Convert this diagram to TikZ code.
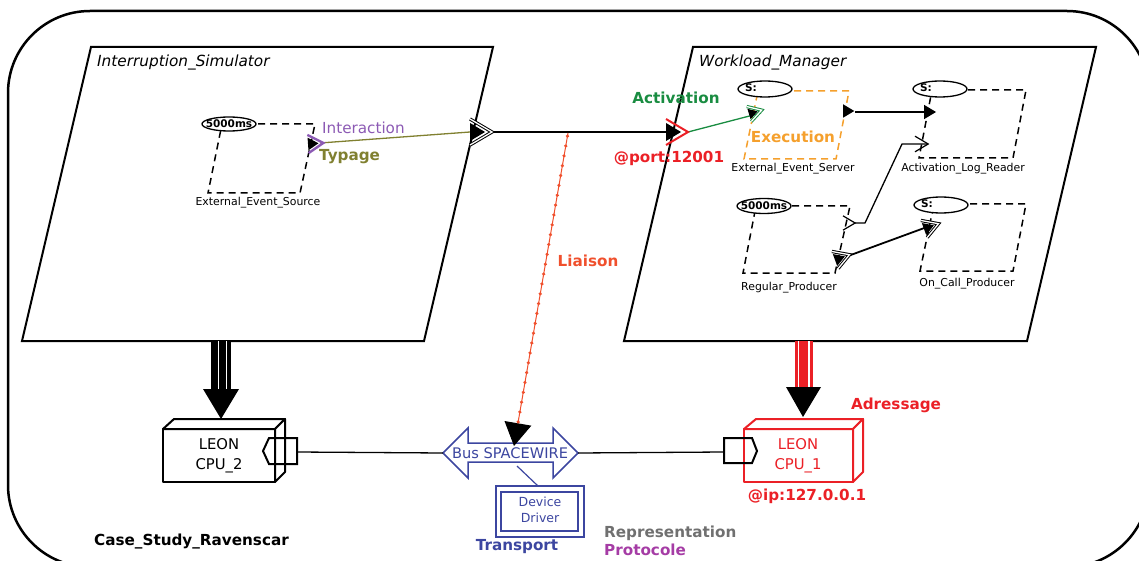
\documentclass[tikz,border=0pt]{standalone}
\usepackage{fontspec}
\setmainfont{DejaVu Sans}
\usetikzlibrary{arrows.meta,decorations.markings}
\definecolor{cred}{RGB}{235,32,38}
\definecolor{cliaison}{RGB}{240,80,45}
\definecolor{cgreen}{RGB}{25,140,65}
\definecolor{cpurple}{RGB}{140,90,180}
\definecolor{colive}{RGB}{128,128,48}
\definecolor{corange}{RGB}{245,160,45}
\definecolor{cblue}{RGB}{60,70,160}
\definecolor{cprot}{RGB}{165,60,165}
\definecolor{cgray}{RGB}{112,112,112}
% port: #1 base position, #2 angle, #3 scale, #4 chevron style, #5 triangle fill
\newcommand\portmk[5]{%
  \begin{scope}[shift={#1},rotate=#2,scale=#3]
    \fill[#5] (0,-9) -- (15,0) -- (0,9) -- cycle;
    \draw[#4] (0,-13) -- (22,0) -- (0,13);
  \end{scope}}
\begin{document}
\begin{tikzpicture}[x=1pt,y=-1pt,
  title/.style={font=\fontsize{15.3}{18}\selectfont\itshape, anchor=west, inner sep=0pt},
  blab/.style={font=\fontsize{15.2}{18}\selectfont\bfseries, inner sep=0pt},
  sub/.style={font=\fontsize{10.9}{13}\selectfont, inner sep=0pt},
  tiny/.style={font=\fontsize{10.5}{12}\selectfont\bfseries, inner sep=0pt},
  frame/.style={line width=2pt, line join=miter},
  dashbox/.style={line width=1.5pt, dash pattern=on 7pt off 5pt},
  ell/.style={line width=1.3pt, fill=white},
  conn/.style={line width=1.5pt},
  dbl/.style={draw=#1, double=white, line width=1pt, double distance=1.3pt},
  cube/.style={line width=2pt, fill=white, line join=round},
  cputext/.style={font=\fontsize{14.8}{20}\selectfont, align=center, inner sep=0pt},
  liaison/.style={draw=cliaison, line width=1pt,
    decoration={markings, mark=between positions 0.01 and 0.93 step 10pt with {\fill[cliaison] (0,0) circle[radius=1.8pt];}},
    postaction={decorate}},
]
\useasboundingbox (0,0) rectangle (1139,561);
\begin{scope}
  \clip (0,0) rectangle (1139,561);
  \draw[line width=2.5pt, rounded corners=82pt] (8,11) rectangle (1149,567);
\end{scope}

% big components
\draw[frame] (91,47) -- (493,47) -- (424,341) -- (22,341) -- cycle;
\node[title] (isim) at (97,62) {Interruption\_Simulator};
\draw[frame] (693,47) -- (1096,47) -- (1027,341) -- (624,341) -- cycle;
\node[title] (wman) at (699,62) {Workload\_Manager};

% External_Event_Source
\draw[dashbox] (222,124) -- (315,124) -- (300,193) -- (208,193) -- cycle;
\draw[ell] (229,124) ellipse [x radius=27pt, y radius=7pt];
\node[tiny] (ees5) at (229,124) {5000ms};
\node[sub] (ees) at (258,203) {External\_Event\_Source};

% External_Event_Server
\draw[dashbox, draw=corange] (758,91) -- (849,91) -- (836,159) -- (744,159) -- cycle;
\draw[ell] (765,89) ellipse [x radius=27pt, y radius=8pt];
\node[tiny] (sS1) at (751,88) {S:};
\node[sub] (eesv) at (793,169) {External\_Event\_Server};

% Activation_Log_Reader
\draw[dashbox] (932,90) -- (1026,90) -- (1013,158) -- (919,158) -- cycle;
\draw[ell] (940,89) ellipse [x radius=27pt, y radius=8pt];
\node[tiny] (sS2) at (926,88) {S:};
\node[sub] (alr) at (963,169) {Activation\_Log\_Reader};

% Regular_Producer
\draw[dashbox] (756,206) -- (850,206) -- (835,273) -- (743,273) -- cycle;
\draw[ell] (764,206) ellipse [x radius=27pt, y radius=7.5pt];
\node[tiny] (rp5) at (764,206) {5000ms};
\node[sub] (rp) at (789,288) {Regular\_Producer};

% On_Call_Producer
\draw[dashbox] (934,204) -- (1026,204) -- (1013,271) -- (920,271) -- cycle;
\draw[ell] (941,205) ellipse [x radius=27pt, y radius=8pt];
\node[tiny] (sS3) at (927,204) {S:};
\node[sub] (ocp) at (967,284) {On\_Call\_Producer};

% port coordinates
\coordinate (eesout) at (320,143);
\coordinate (isin) at (470,132);
\coordinate (isout) at (492,132);
\coordinate (wmin) at (666,132);
\coordinate (wmout) at (688,132);
\coordinate (srvin) at (761,113);
\coordinate (srvout) at (855,112);
\coordinate (alrin) at (926,112);
\coordinate (rpout1) at (855,223);
\coordinate (rpbend1) at (865,223);
\coordinate (rpbend2) at (902,144);
\coordinate (alrin2) at (927,144);
\coordinate (rpout2) at (848,256);
\coordinate (ocpin) at (927,227);
\coordinate (lk) at (568,133);
\coordinate (bustop) at (514,446);

% connectors
\draw[colive, line width=1.3pt] (eesout) -- (isin);
\draw[conn] (isout) -- (wmin);
\draw[cgreen, line width=1.3pt] (wmout) -- (srvin);
\draw[line width=1.8pt] (srvout) -- (alrin);
\draw[line width=1.3pt] (rpout1) -- (rpbend1) -- (rpbend2) -- (alrin2);
\draw[line width=1.8pt] (rpout2) -- (ocpin);

% ports
\portmk{(308,144)}{4}{0.7}{cpurple, line width=2.4pt}{black}
\portmk{(470,132)}{0}{1}{dbl=black}{black}
\portmk{(666,132)}{0}{1}{cred, line width=2pt}{black}
\portmk{(749,114)}{17}{0.6}{dbl=cgreen}{black}
\portmk{(843,111)}{0}{0.75}{draw=none}{black}
\portmk{(924,112)}{0}{0.8}{draw=none}{black}
\portmk{(915,144)}{0}{0.6}{black, line width=1.2pt}{white, opacity=0}
\portmk{(843,223)}{0}{0.55}{black, line width=1.2pt}{white, opacity=0}
\portmk{(835,260)}{20}{0.7}{dbl=black}{black}
\portmk{(924,229)}{20}{0.7}{dbl=black}{black}

% labels on top
\node[font=\fontsize{15.2}{18}\selectfont, text=cpurple, anchor=west, inner sep=0pt] (inter) at (322,128) {Interaction};
\node[blab, text=colive, anchor=west] (typ) at (319,157) {Typage};
\node[blab, text=cgreen] (act) at (676,98) {Activation};
\node[blab, text=cred] (port) at (669,158) {@port:12001};
\node[blab, text=corange] (exe) at (793,137) {Execution};
\node[blab, text=cliaison] (liai) at (588,261) {Liaison};

% big arrows
\coordinate (istop) at (221,341);
\fill (211,341) rectangle (231,390);
\draw[white, line width=1.2pt] (218.5,341) -- (218.5,390);
\draw[white, line width=1.2pt] (226.5,341) -- (226.5,390);
\fill (203,389) -- (239,389) -- (221,419) -- cycle;

\fill[cred] (795,341) rectangle (813,388);
\draw[white, line width=1.2pt] (798.5,341) -- (798.5,388);
\draw[white, line width=1.2pt] (809,341) -- (809,388);
\fill (786,387) -- (821,387) -- (803,417) -- cycle;

% CPU_2
\draw[cube] (163,429) rectangle (275,482);
\draw[cube] (163,429) -- (174,419) -- (285,419) -- (275,429) -- cycle;
\draw[cube] (275,429) -- (285,419) -- (285,472) -- (275,482) -- cycle;
\node[cputext] (cpu2) at (219,456) {LEON\\CPU\_2};
\draw[line width=2pt] (263,451) -- (269,438) -- (297,438) -- (297,464) -- (269,464) -- cycle;
\coordinate (cpu2port) at (297,452);

% CPU_1
\draw[cube, draw=cred] (744,429) rectangle (853,482);
\draw[cube, draw=cred] (744,429) -- (756,419) -- (863,419) -- (853,429) -- cycle;
\draw[cube, draw=cred] (853,429) -- (863,419) -- (863,472) -- (853,482) -- cycle;
\node[cputext, text=cred] (cpu1) at (798,456) {LEON\\CPU\_1};
\draw[line width=2pt] (724,438) -- (752,438) -- (757,451) -- (752,463) -- (724,463) -- cycle;
\coordinate (cpu1port) at (724,452);

% Bus
\draw[cblue, line width=1.5pt, fill=white] (443,453) -- (468,428) -- (468,443) -- (553,443) -- (553,428) -- (578,453) -- (553,478) -- (553,462) -- (468,462) -- (468,478) -- cycle;
\node[font=\fontsize{14.6}{17}\selectfont, text=cblue, inner sep=0pt] (bus) at (510,453) {Bus SPACEWIRE};
\coordinate (busl) at (443,453);
\coordinate (busr) at (578,453);
\draw[line width=1.3pt] (cpu2port) -- (busl);
\draw[line width=1.3pt] (busr) -- (cpu1port);

% Device driver
\draw[cblue, line width=1.2pt] (517,466) -- (538,486);
\draw[cblue, line width=1.2pt] (496,486) rectangle (584,537);
\draw[cblue, line width=1.2pt] (501,492) rectangle (578,531);
\node[font=\fontsize{12.5}{16}\selectfont, text=cblue, align=center, inner sep=0pt] (dd) at (540,510) {Device\\Driver};

% Liaison
\draw[liaison, -{Triangle[width=27pt,length=23pt,color=black]}] (lk) -- (bustop);

% other labels
\node[blab, text=cred] (adr) at (896,405) {Adressage};
\node[blab, text=cred] (ip) at (807,496) {@ip:127.0.0.1};
\node[blab, text=cblue] (trans) at (517,547) {Transport};
\node[blab, text=cgray, anchor=west] (repr) at (604,533) {Representation};
\node[blab, text=cprot, anchor=west] (proto) at (604,550) {Protocole};
\node[blab, anchor=west] (cs) at (94,542) {Case\_Study\_Ravenscar};
\end{tikzpicture}
\end{document}
